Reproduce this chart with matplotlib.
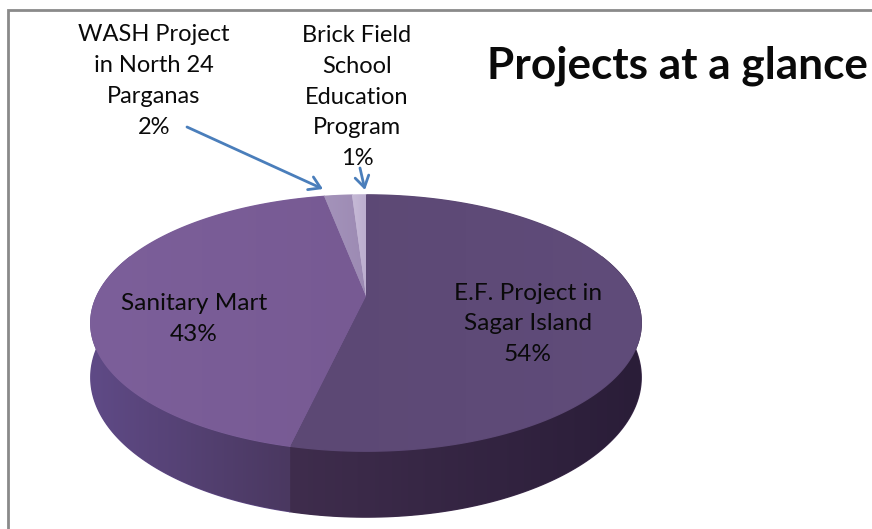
import numpy as np
import matplotlib
matplotlib.use('Agg')
import matplotlib.pyplot as plt
from matplotlib.colors import LinearSegmentedColormap
from matplotlib.patches import Polygon

# [1] Chart data, slices run clockwise from 12 o'clock
names = ['E.F. Project in\nSagar Island', 'Sanitary Mart',
         'WASH Project\nin North 24\nParganas', 'Brick Field\nSchool\nEducation\nProgram']
shares = [53.6, 43.4, 2.0, 1.0]
percent_labels = ['54%', '43%', '2%', '1%']
title = 'Projects at a glance'

# [2] Colours
top_colors = [['#5c4874', '#604c7a'], ['#7c5f9a', '#775a93'], ['#a493ba', '#9c8ab3'], ['#c6bad6', '#bcaecf']]
wall_colors = [['#3f2d4d', '#2a1d38'], ['#5f4a86', '#4a3860'], ['#634b8a', '#634b8a'], ['#634b8a', '#634b8a']]
frame_color = '#8a8a8a'
arrow_color = '#4a7ebb'
text_color = '#0a0a0a'
plt.rcParams['font.family'] = ['Lato', 'DejaVu Sans']

# [3] Perspective of the pie, in pixels of the picture
cx, cy = 366, 296
half_w = 269
persp = 0.211
squash = -60
depth = 52


def project(theta):
    u, v = np.sin(theta), np.cos(theta)
    w = 1 + persp * v
    return cx + half_w * u / w, (cy + squash * v) / w, w


def gradient(ax, patch, colors):
    # horizontal colour ramp, clipped to the shape
    cmap = LinearSegmentedColormap.from_list('ramp', colors)
    xy = patch.get_xy()
    # solid copy underneath, hides the light seams of the clipped image
    ax.add_patch(Polygon(xy, closed=True, facecolor=colors[0], edgecolor=colors[0], lw=1,
                         zorder=patch.get_zorder() - 0.5))
    im = ax.imshow(np.linspace(0, 1, 128).reshape(1, -1), cmap=cmap, aspect='auto',
                   extent=(xy[:, 0].min(), xy[:, 0].max(), xy[:, 1].max(), xy[:, 1].min()),
                   zorder=patch.get_zorder())
    ax.add_patch(patch)
    patch.set_visible(False)
    im.set_clip_path(patch)


fig = plt.figure(figsize=(8.72, 5.29), dpi=100)
ax = fig.add_axes([0, 0, 1, 1])

edges = np.radians(np.concatenate([[0], np.cumsum(shares)]) * 3.6)

# side wall first, only the front half of the rim shows
for i in range(len(shares)):
    a = max(edges[i], np.radians(70))
    b = min(edges[i + 1], np.radians(290))
    if a >= b:
        continue
    t = np.linspace(a, b, 120)
    x, y, w = project(t)
    y2 = y + depth / w
    wall = Polygon(np.column_stack([np.r_[x, x[::-1]], np.r_[y, y2[::-1]]]), closed=True, zorder=2)
    gradient(ax, wall, wall_colors[i])

# top face of every slice
for i in range(len(shares)):
    t = np.linspace(edges[i], edges[i + 1], 200)
    x, y, w = project(t)
    face = Polygon(np.column_stack([np.r_[cx, x], np.r_[cy, y]]), closed=True, zorder=4)
    gradient(ax, face, top_colors[i])

# [4] Frame of the chart
ax.plot([8, 8, 872], [529, 10, 10], color=frame_color, lw=2, zorder=5, solid_joinstyle='miter')

# [5] Text
outer_size = 17
inner_size = 17.6
spacing = 1.58
ax.text(528, 324, names[0] + '\n' + percent_labels[0], ha='center', va='center',
        fontsize=inner_size, linespacing=spacing, color=text_color, zorder=6)
ax.text(194, 319, names[1] + '\n' + percent_labels[1], ha='center', va='center',
        fontsize=inner_size, linespacing=spacing, color=text_color, zorder=6)
ax.text(154, 81, names[2] + '\n' + percent_labels[2], ha='center', va='center',
        fontsize=outer_size, linespacing=spacing, color=text_color, zorder=6)
ax.text(357, 97, names[3] + '\n' + percent_labels[3], ha='center', va='center',
        fontsize=outer_size, linespacing=spacing, color=text_color, zorder=6)
ax.text(677, 66, title, ha='center', va='center', fontsize=31.8, fontweight='bold',
        color=text_color, zorder=6)

# [6] Leader arrows
style = dict(arrowstyle='->,head_length=0.8,head_width=0.5', color=arrow_color, lw=2, shrinkA=0, shrinkB=0)
ax.annotate('', xy=(323, 189), xytext=(187, 127), arrowprops=style, zorder=7)
ax.annotate('', xy=(365, 190), xytext=(360, 168), arrowprops=style, zorder=7)

ax.set_xlim(0, 872)
ax.set_ylim(529, 0)
ax.axis('off')

plt.savefig('out.png', dpi=100, facecolor='white')
